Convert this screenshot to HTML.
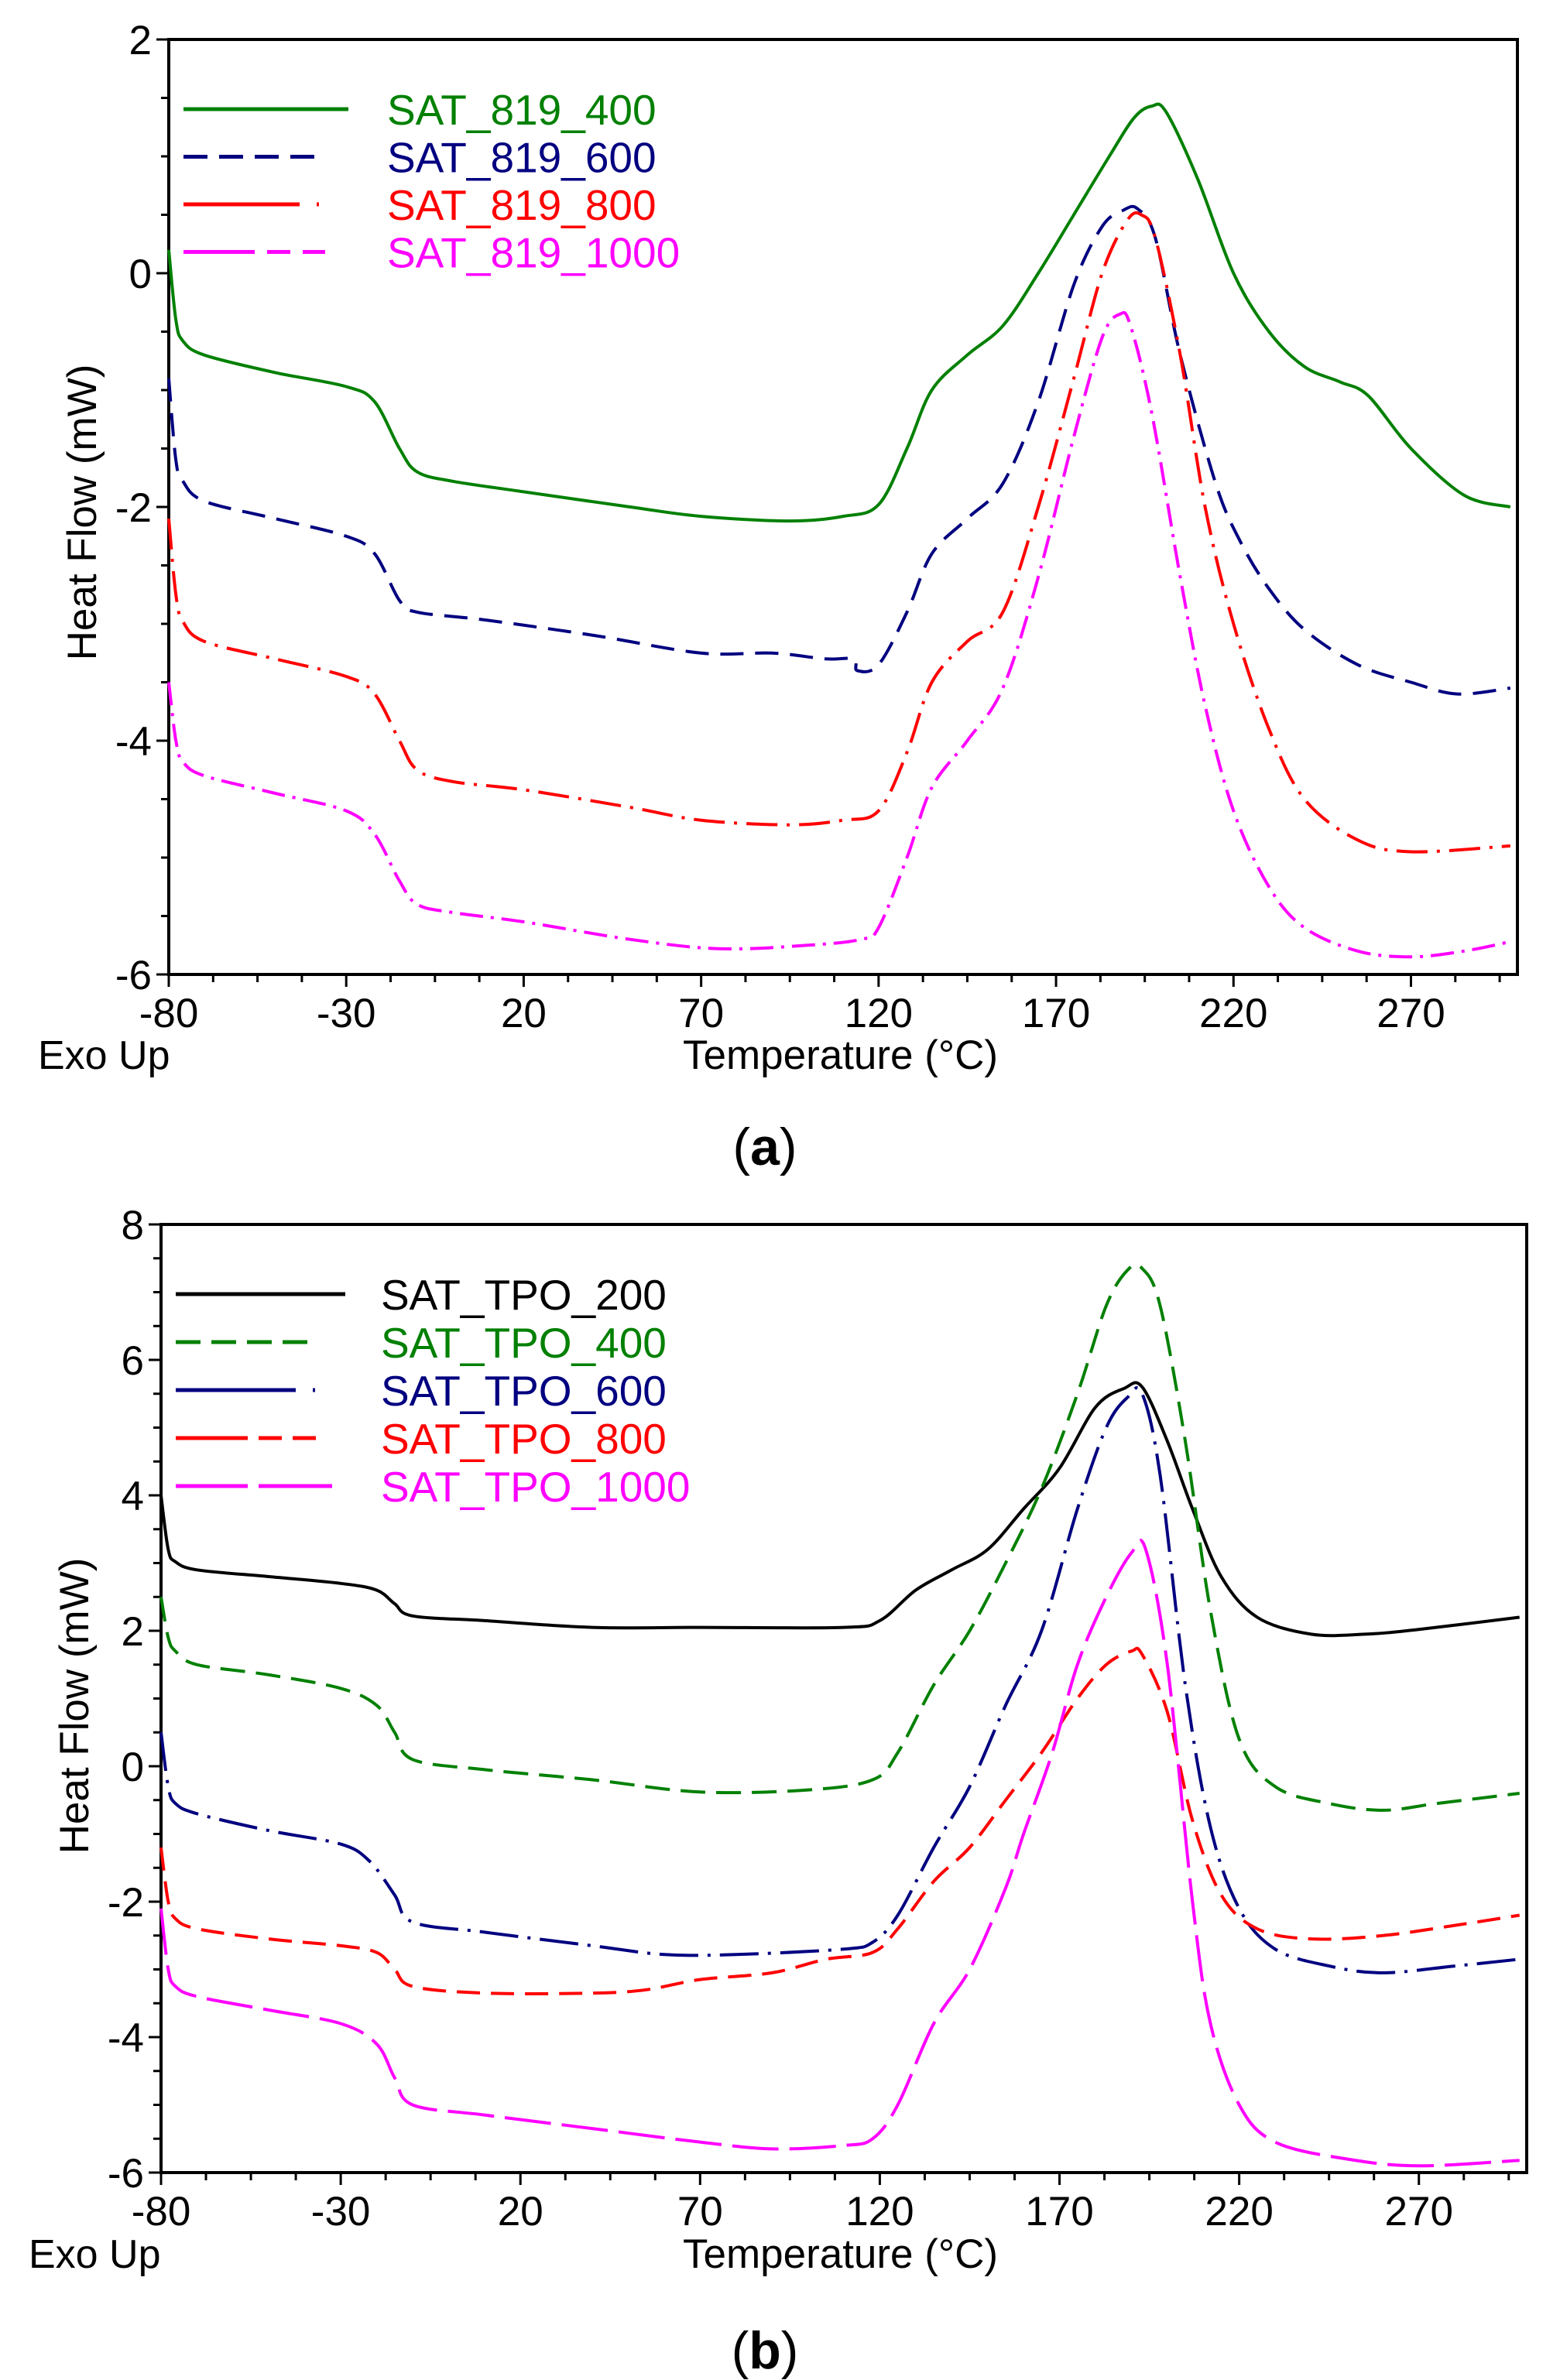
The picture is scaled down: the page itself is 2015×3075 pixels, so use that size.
<!DOCTYPE html>
<html><head><meta charset="utf-8"><style>
html,body{margin:0;padding:0;background:#fff;}
svg{display:block;}
text{font-family:"Liberation Sans",Arial,sans-serif;}
</style></head><body>
<svg id="s" width="2015" height="3075" viewBox="0 0 2015 3075" xmlns="http://www.w3.org/2000/svg">
<rect width="2015" height="3075" fill="#fff"/>
<g id="g"></g>
<g font-size="53" fill="#000">
<text x="49" y="1381" font-size="52">Exo Up</text>
<text x="882" y="1381" font-size="53">Temperature (°C)</text>
<text transform="translate(124,662) rotate(-90)" text-anchor="middle" font-size="53">Heat Flow (mW)</text>
<text x="37" y="2930" font-size="52">Exo Up</text>
<text x="882" y="2930" font-size="53">Temperature (°C)</text>
<text transform="translate(114,2204) rotate(-90)" text-anchor="middle" font-size="53">Heat Flow (mW)</text>
</g>
<text x="988" y="1505" text-anchor="middle" font-family="Liberation Serif,serif" font-size="68">(<tspan font-weight="bold">a</tspan>)</text>
<text x="988" y="3060" text-anchor="middle" font-family="Liberation Serif,serif" font-size="68">(<tspan font-weight="bold">b</tspan>)</text>
</svg>
<script>
var NS="http://www.w3.org/2000/svg",G=document.getElementById("g");
function el(t,a,txt){var e=document.createElementNS(NS,t);for(var k in a)e.setAttribute(k,a[k]);if(txt!=null)e.textContent=txt;G.appendChild(e);return e;}
function chart(c){
 var X=function(t){return c.l+(t+80)*(c.r-c.l)/380;},Y=function(v){return c.t+(c.ymax-v)*(c.b-c.t)/(c.ymax-c.ymin);};
 el("rect",{x:c.l,y:c.t,width:c.r-c.l,height:c.b-c.t,fill:"none",stroke:"#000","stroke-width":4});
 for(var t=-80;t<=300;t+=12.5){var maj=Math.abs(((t+80)%50))<0.01;el("line",{x1:X(t),x2:X(t),y1:c.b,y2:c.b+(maj?16:10),stroke:"#000","stroke-width":3});
  if(maj&&t<=270)el("text",{x:X(t),y:c.xly,"text-anchor":"middle","font-size":53},String(t));}
 for(var v=c.ymin;v<=c.ymax+1e-6;v+=c.minor){var maj=Math.abs(v/c.major-Math.round(v/c.major))<0.01;el("line",{x1:c.l-(maj?16:10),x2:c.l,y1:Y(v),y2:Y(v),stroke:"#000","stroke-width":3});
  if(maj)el("text",{x:c.l-22,y:Y(v)+19,"text-anchor":"end","font-size":53},String(Math.round(v)));}
 c.series.forEach(function(s,i){
  var p=s.d.map(function(q){return [X(q[0]),Y(q[1])];});
  var d="M"+p[0][0].toFixed(1)+","+p[0][1].toFixed(1);
  for(var k=0;k<p.length-1;k++){var p0=p[k-1]||p[k],p1=p[k],p2=p[k+1],p3=p[k+2]||p2;
   var c1=[p1[0]+(p2[0]-p0[0])/6,p1[1]+(p2[1]-p0[1])/6],c2=[p2[0]-(p3[0]-p1[0])/6,p2[1]-(p3[1]-p1[1])/6];
   d+="C"+c1[0].toFixed(1)+","+c1[1].toFixed(1)+" "+c2[0].toFixed(1)+","+c2[1].toFixed(1)+" "+p2[0].toFixed(1)+","+p2[1].toFixed(1);}
  var a={d:d,fill:"none",stroke:s.c,"stroke-width":4};if(s.da)a["stroke-dasharray"]=s.da;el("path",a);
  var ly=c.ly+i*c.lsp;var la={x1:c.lx1,x2:c.lx1+s.ll,y1:ly,y2:ly,stroke:s.c,"stroke-width":5};if(s.lda)la["stroke-dasharray"]=s.lda;el("line",la);
  el("text",{x:c.tx,y:ly+20,fill:s.c,"font-size":55},s.n);
 });
}
chart({l:218,r:1960,t:51,b:1259,ymax:2,ymin:-6,major:2,minor:0.5,xly:1327,ly:141,lsp:61.5,lx1:237,tx:500,series:[
 {n:"SAT_819_400",c:"#008000",ll:213,d:[[-80,0.2],[-78,-0.4],[-76,-0.58],[-70,-0.7],[-50,-0.85],[-30,-0.97],[-22,-1.1],[-15,-1.5],[-10,-1.7],[0,-1.78],[20,-1.87],[50,-2.0],[70,-2.08],[95,-2.12],[110,-2.08],[120,-1.98],[128,-1.5],[135,-1.0],[145,-0.7],[155,-0.45],[165,0],[175,0.5],[185,1.0],[192,1.33],[197,1.43],[201,1.38],[210,0.8],[220,0],[230,-0.5],[240,-0.8],[250,-0.93],[258,-1.05],[270,-1.5],[285,-1.9],[298,-2.0]]},
 {n:"SAT_819_600",c:"#000080",ll:170,da:"30 15",lda:"31 15",d:[[-80,-0.9],[-78,-1.6],[-76,-1.78],[-70,-1.95],[-50,-2.1],[-30,-2.25],[-22,-2.4],[-15,-2.8],[-10,-2.9],[10,-2.97],[40,-3.1],[70,-3.25],[90,-3.25],[105,-3.3],[113,-3.3],[114,-3.4],[120,-3.35],[128,-2.9],[135,-2.4],[145,-2.1],[155,-1.8],[165,-1.1],[175,-0.1],[183,0.4],[189,0.54],[193,0.55],[198,0.3],[205,-0.7],[215,-1.8],[222,-2.3],[230,-2.7],[240,-3.05],[255,-3.35],[270,-3.5],[283,-3.6],[298,-3.55]]},
 {n:"SAT_819_800",c:"#ff0000",ll:175,da:"40 12 4 12",lda:"150 22 4 12",d:[[-80,-2.1],[-78,-2.75],[-76,-2.98],[-70,-3.15],[-50,-3.3],[-30,-3.45],[-22,-3.6],[-15,-4.0],[-10,-4.25],[0,-4.35],[20,-4.42],[50,-4.57],[70,-4.68],[95,-4.72],[110,-4.68],[120,-4.6],[128,-4.1],[135,-3.5],[145,-3.15],[155,-2.9],[165,-2.0],[175,-0.9],[183,0],[190,0.45],[194,0.5],[198,0.3],[205,-0.7],[212,-2.0],[220,-3.0],[230,-3.9],[240,-4.5],[255,-4.85],[270,-4.95],[298,-4.9]]},
 {n:"SAT_819_1000",c:"#ff00ff",ll:183,da:"30 10 4 10",lda:"92 16 30 16 30",d:[[-80,-3.5],[-78,-4.0],[-76,-4.18],[-70,-4.3],[-50,-4.45],[-30,-4.6],[-22,-4.8],[-15,-5.2],[-10,-5.4],[0,-5.47],[20,-5.55],[50,-5.7],[75,-5.78],[100,-5.75],[115,-5.7],[120,-5.6],[128,-5.0],[135,-4.4],[145,-4.0],[155,-3.55],[165,-2.6],[175,-1.4],[183,-0.55],[188,-0.35],[191,-0.45],[197,-1.2],[205,-2.6],[212,-3.7],[220,-4.6],[230,-5.25],[240,-5.6],[255,-5.8],[270,-5.85],[285,-5.8],[298,-5.72]]}
]});
chart({l:208,r:1972,t:1582,b:2807,ymax:8,ymin:-6,major:2,minor:0.5,xly:2875,ly:1672,lsp:62,lx1:227,tx:492,series:[
 {n:"SAT_TPO_200",c:"#000000",ll:219,d:[[-80,4],[-78,3.2],[-76,3.02],[-70,2.9],[-50,2.8],[-30,2.7],[-20,2.6],[-15,2.4],[-10,2.22],[10,2.15],[40,2.05],[70,2.05],[110,2.05],[120,2.15],[130,2.6],[140,2.9],[150,3.2],[160,3.8],[170,4.4],[180,5.3],[188,5.58],[193,5.6],[200,4.8],[207,3.8],[215,2.8],[225,2.2],[240,1.95],[255,1.95],[270,2.02],[298,2.2]]},
 {n:"SAT_TPO_400",c:"#008000",ll:170,da:"32 14",lda:"32 14",d:[[-80,2.5],[-78,1.9],[-76,1.7],[-70,1.5],[-50,1.35],[-30,1.15],[-20,0.9],[-15,0.5],[-10,0.1],[10,-0.05],[40,-0.2],[70,-0.38],[100,-0.35],[118,-0.2],[125,0.2],[135,1.2],[145,2.0],[155,3.0],[165,4.1],[175,5.5],[183,6.8],[189,7.33],[193,7.35],[198,6.8],[205,4.8],[212,2.3],[220,0.4],[230,-0.3],[245,-0.55],[260,-0.65],[275,-0.55],[298,-0.4]]},
 {n:"SAT_TPO_600",c:"#000080",ll:180,da:"50 12 4 12",lda:"155 22 5 12",d:[[-80,0.5],[-78,-0.3],[-76,-0.55],[-70,-0.7],[-50,-0.95],[-30,-1.15],[-22,-1.4],[-15,-1.9],[-10,-2.3],[10,-2.45],[40,-2.65],[60,-2.78],[80,-2.78],[110,-2.7],[118,-2.6],[125,-2.2],[135,-1.2],[145,-0.3],[155,0.9],[165,2.0],[175,3.8],[183,5.0],[189,5.45],[193,5.5],[198,4.3],[205,1.2],[212,-0.9],[220,-2.1],[230,-2.7],[245,-2.95],[260,-3.05],[280,-2.95],[298,-2.85]]},
 {n:"SAT_TPO_800",c:"#ff0000",ll:187,da:"30 14",lda:"93 14 30 14 30",d:[[-80,-1.2],[-78,-2.0],[-76,-2.25],[-70,-2.4],[-50,-2.55],[-30,-2.65],[-20,-2.75],[-15,-3.0],[-10,-3.25],[10,-3.35],[40,-3.35],[55,-3.3],[70,-3.15],[90,-3.05],[105,-2.85],[118,-2.75],[125,-2.4],[135,-1.7],[145,-1.2],[155,-0.5],[165,0.2],[175,1.0],[183,1.5],[190,1.7],[193,1.65],[200,0.8],[207,-0.8],[215,-1.9],[225,-2.4],[240,-2.55],[260,-2.5],[280,-2.35],[298,-2.2]]},
 {n:"SAT_TPO_1000",c:"#ff00ff",ll:202,da:"60 14",lda:"93 14 95",d:[[-80,-2.1],[-78,-3.0],[-76,-3.25],[-70,-3.4],[-50,-3.6],[-30,-3.8],[-20,-4.1],[-15,-4.6],[-10,-5.0],[10,-5.15],[40,-5.35],[70,-5.55],[90,-5.65],[110,-5.6],[118,-5.5],[125,-5.0],[135,-3.8],[145,-3.0],[155,-1.8],[160,-1.0],[168,0.2],[175,1.5],[183,2.5],[190,3.15],[194,3.2],[200,1.5],[207,-2.0],[212,-3.8],[220,-5.0],[230,-5.55],[250,-5.8],[270,-5.9],[298,-5.82]]}
]});
</script>
</body></html>
